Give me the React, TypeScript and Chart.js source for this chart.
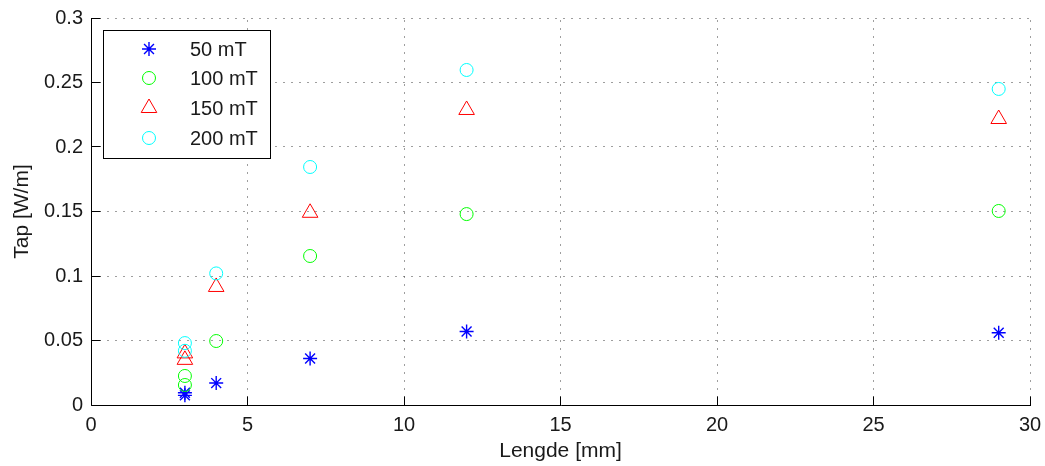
import React, { useEffect, useRef } from 'react';
import { Chart, registerables } from 'chart.js';

Chart.register(...registerables);

// ---- data ----
const xLengths = [3, 3, 4, 7, 12, 29];
const tap50 = [0.0075, 0.0095, 0.017, 0.036, 0.057, 0.056];
const tap100 = [0.0155, 0.0225, 0.0496, 0.1155, 0.148, 0.1504];
const tap150 = [0.035, 0.04, 0.0915, 0.149, 0.2287, 0.2217];
const tap200 = [0.042, 0.048, 0.102, 0.1845, 0.2597, 0.245];
const seriesLabels = ['50 mT', '100 mT', '150 mT', '200 mT'];
const xTickValues = [0, 5, 10, 15, 20, 25, 30];
const yTickValues = [0, 0.05, 0.1, 0.15, 0.2, 0.25, 0.3];
const xTitle = 'Lengde [mm]';
const yTitle = 'Tap [W/m]';

// ---- styles ----
const FONT = '"Liberation Sans", Arial, Helvetica, sans-serif';
const TEXT = '#1a1a1a';
const markerStyles = [
  { color: '#0000ff', shape: 'star', r: 7, w: 1.4 },
  { color: '#00ff00', shape: 'circle', r: 6.5, w: 1 },
  { color: '#ff0000', shape: 'triangle', r: 9, w: 1 },
  { color: '#00ffff', shape: 'circle', r: 6.5, w: 1 },
];

function drawMarker(ctx: CanvasRenderingContext2D, shape: string, x: number, y: number, r: number, color: string, w: number) {
  ctx.save();
  ctx.strokeStyle = color;
  ctx.lineWidth = w;
  ctx.beginPath();
  if (shape === 'circle') {
    ctx.arc(x, y, r, 0, Math.PI * 2);
  } else if (shape === 'triangle') {
    let a = 0;
    ctx.moveTo(x + Math.sin(a) * r, y - Math.cos(a) * r);
    a += (2 * Math.PI) / 3;
    ctx.lineTo(x + Math.sin(a) * r, y - Math.cos(a) * r);
    a += (2 * Math.PI) / 3;
    ctx.lineTo(x + Math.sin(a) * r, y - Math.cos(a) * r);
    ctx.closePath();
  } else {
    ctx.moveTo(x - r, y);
    ctx.lineTo(x + r, y);
    ctx.moveTo(x, y - r);
    ctx.lineTo(x, y + r);
    const d = r * Math.SQRT1_2;
    ctx.moveTo(x - d, y - d);
    ctx.lineTo(x + d, y + d);
    ctx.moveTo(x + d, y - d);
    ctx.lineTo(x - d, y + d);
  }
  ctx.stroke();
  ctx.restore();
}

const matlabAxes = {
  id: 'matlabAxes',
  beforeDatasetsDraw(chart: any) {
    const { ctx, chartArea, scales } = chart;
    const xs = scales.x;
    const ys = scales.y;
    const left = Math.floor(chartArea.left) + 0.5;
    const bottom = Math.floor(chartArea.bottom) + 0.5;
    const top = Math.floor(chartArea.top) + 0.5;
    const right = Math.floor(chartArea.right) + 0.5;
    ctx.save();
    // dotted grid
    ctx.strokeStyle = '#3c3c3c';
    ctx.lineWidth = 1;
    ctx.setLineDash([1, 7]);
    xTickValues.forEach((v) => {
      if (v === 0) return;
      const px = Math.floor(xs.getPixelForValue(v)) + 0.5;
      ctx.beginPath();
      ctx.moveTo(px, bottom);
      ctx.lineTo(px, top);
      ctx.stroke();
    });
    yTickValues.forEach((v) => {
      if (v === 0) return;
      const py = Math.floor(ys.getPixelForValue(v)) + 0.5;
      ctx.beginPath();
      ctx.moveTo(left, py);
      ctx.lineTo(right, py);
      ctx.stroke();
    });
    ctx.setLineDash([]);
    // axes
    ctx.strokeStyle = '#000';
    ctx.beginPath();
    ctx.moveTo(left, top - 0.5);
    ctx.lineTo(left, bottom);
    ctx.lineTo(right + 0.5, bottom);
    ctx.stroke();
    // inward ticks
    const tl = 9;
    xTickValues.forEach((v) => {
      const px = Math.floor(xs.getPixelForValue(v)) + 0.5;
      ctx.beginPath();
      ctx.moveTo(px, bottom);
      ctx.lineTo(px, bottom - tl);
      ctx.stroke();
    });
    yTickValues.forEach((v) => {
      const py = Math.floor(ys.getPixelForValue(v)) + 0.5;
      ctx.beginPath();
      ctx.moveTo(left, py);
      ctx.lineTo(left + tl, py);
      ctx.stroke();
    });
    ctx.restore();
  },
  afterDraw(chart: any) {
    const { ctx } = chart;
    ctx.save();
    // legend box
    const bx = 103.5, by = 30.5, bw = 167, bh = 128;
    ctx.fillStyle = '#ffffff';
    ctx.fillRect(bx, by, bw, bh);
    ctx.strokeStyle = '#000';
    ctx.lineWidth = 1;
    ctx.strokeRect(bx, by, bw, bh);
    const rows = [49, 78, 108, 138];
    ctx.font = `20px ${FONT}`;
    ctx.fillStyle = TEXT;
    ctx.textBaseline = 'middle';
    ctx.textAlign = 'left';
    seriesLabels.forEach((lab, i) => {
      const s = markerStyles[i];
      drawMarker(ctx, s.shape, 149, rows[i], s.r, s.color, s.w);
      ctx.fillStyle = TEXT;
      ctx.fillText(lab, 190, rows[i] + 1);
    });
    ctx.restore();
  },
};

export default function App() {
  const ref = useRef<HTMLCanvasElement | null>(null);

  useEffect(() => {
    if (!ref.current) return;
    const series = [tap50, tap100, tap150, tap200];
    const chart = new Chart(ref.current, {
      type: 'scatter',
      data: {
        datasets: series.map((vals, i) => ({
          label: seriesLabels[i],
          data: vals.map((v, j) => ({ x: xLengths[j], y: v })),
          pointStyle: markerStyles[i].shape as any,
          pointRadius: markerStyles[i].r,
          pointHoverRadius: markerStyles[i].r,
          borderColor: markerStyles[i].color,
          pointBorderColor: markerStyles[i].color,
          backgroundColor: 'rgba(0,0,0,0)',
          pointBackgroundColor: 'rgba(0,0,0,0)',
          borderWidth: markerStyles[i].w,
          pointBorderWidth: markerStyles[i].w,
          showLine: false,
          order: 3 - i,
        })),
      },
      options: {
        responsive: false,
        animation: false,
        devicePixelRatio: 1,
        layout: { padding: { left: 0, right: 15, top: 18, bottom: 0 } },
        plugins: {
          legend: { display: false },
          tooltip: { enabled: false },
        },
        scales: {
          x: {
            type: 'linear',
            min: 0,
            max: 30,
            grid: { display: false, drawTicks: false },
            border: { display: false },
            ticks: {
              stepSize: 5,
              padding: 8,
              maxRotation: 0,
              autoSkip: false,
              color: TEXT,
              font: { family: FONT, size: 20 },
            },
            title: {
              display: true,
              text: xTitle,
              color: TEXT,
              font: { family: FONT, size: 21 },
              padding: { top: 0, bottom: 2 },
            },
            afterFit: (s: any) => {
              s.height = 61;
              s.paddingLeft = 0;
              s.paddingRight = 0;
            },
          },
          y: {
            type: 'linear',
            min: 0,
            max: 0.3,
            grid: { display: false, drawTicks: false },
            border: { display: false },
            ticks: {
              stepSize: 0.05,
              padding: 8,
              color: TEXT,
              font: { family: FONT, size: 20 },
              callback: (v: any) => String(Number(Number(v).toFixed(2))),
            },
            title: {
              display: true,
              text: yTitle,
              color: TEXT,
              font: { family: FONT, size: 21 },
              padding: { top: 10, bottom: 0 },
            },
            afterFit: (s: any) => {
              s.width = 91;
              s.paddingTop = 0;
              s.paddingBottom = 0;
            },
          },
        },
      },
      plugins: [matlabAxes],
    });
    return () => chart.destroy();
  }, []);

  return (
    <div style={{ position: 'fixed', left: 0, top: 0, width: 1045, height: 466, background: '#fff' }}>
      <canvas ref={ref} width={1045} height={466} />
    </div>
  );
}
